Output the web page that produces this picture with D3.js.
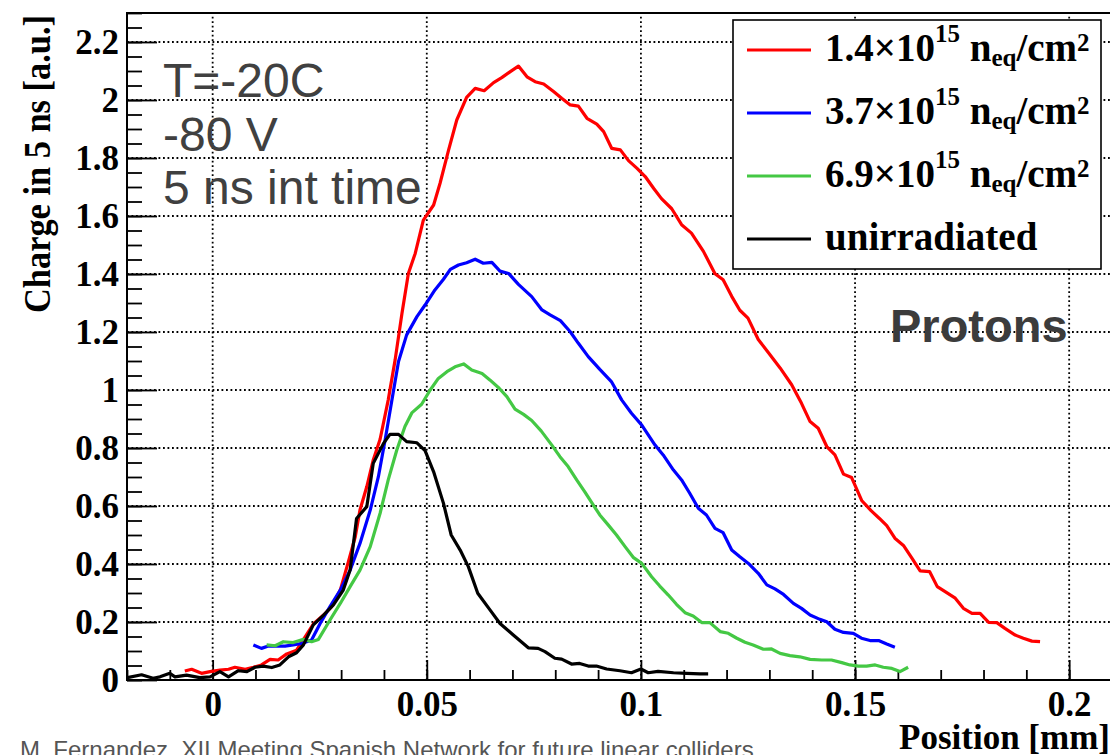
<!DOCTYPE html>
<html><head><meta charset="utf-8">
<script src="https://cdn.jsdelivr.net/npm/d3@7"></script>
<style>html,body{margin:0;padding:0;background:#fff;overflow:hidden}</style>
</head><body>
<svg id="c" width="1110" height="755"></svg>
<script>
// ---- data (position [mm], charge [a.u.]) ----
const red = [[-0.0065,0.031],[-0.0049,0.037],[-0.0026,0.023],[-0.0006,0.029],[0.0017,0.034],[0.0037,0.037],[0.0052,0.044],[0.0076,0.037],[0.0095,0.044],[0.0114,0.052],[0.0134,0.071],[0.0153,0.069],[0.0173,0.09],[0.0196,0.103],[0.0216,0.149],[0.0235,0.193],[0.0259,0.224],[0.0278,0.253],[0.0298,0.31],[0.0317,0.408],[0.0333,0.494],[0.0344,0.586],[0.036,0.667],[0.0375,0.759],[0.0391,0.83],[0.041,0.966],[0.0426,1.103],[0.0442,1.264],[0.0457,1.402],[0.0473,1.471],[0.0492,1.586],[0.0516,1.638],[0.0531,1.713],[0.0551,1.828],[0.057,1.931],[0.0593,2.009],[0.0613,2.04],[0.0634,2.032],[0.0656,2.06],[0.0675,2.077],[0.0695,2.098],[0.0714,2.117],[0.0734,2.08],[0.0753,2.063],[0.0773,2.055],[0.0796,2.029],[0.0815,2.006],[0.0835,1.983],[0.0854,1.979],[0.0874,1.937],[0.0897,1.917],[0.0913,1.891],[0.0932,1.833],[0.0952,1.828],[0.0971,1.791],[0.0991,1.764],[0.101,1.736],[0.103,1.695],[0.1048,1.66],[0.1072,1.625],[0.1095,1.57],[0.1118,1.541],[0.1146,1.478],[0.1173,1.401],[0.1192,1.38],[0.1212,1.323],[0.1231,1.275],[0.125,1.248],[0.1274,1.174],[0.1297,1.13],[0.1325,1.076],[0.1352,1.018],[0.1375,0.954],[0.1395,0.891],[0.1414,0.868],[0.1434,0.805],[0.1453,0.776],[0.1473,0.71],[0.1492,0.698],[0.1516,0.618],[0.1538,0.583],[0.1557,0.557],[0.1574,0.532],[0.1593,0.489],[0.1613,0.464],[0.1632,0.422],[0.1652,0.376],[0.1674,0.374],[0.1692,0.322],[0.1714,0.301],[0.1734,0.282],[0.1753,0.247],[0.1773,0.23],[0.1792,0.23],[0.1812,0.199],[0.1831,0.198],[0.185,0.178],[0.1874,0.155],[0.1893,0.144],[0.1913,0.134],[0.1932,0.132]];

const blue = [[0.0095,0.121],[0.0114,0.109],[0.013,0.117],[0.015,0.117],[0.0169,0.117],[0.0188,0.121],[0.0208,0.126],[0.0231,0.138],[0.0251,0.195],[0.0274,0.253],[0.0298,0.31],[0.0321,0.379],[0.0344,0.471],[0.0368,0.586],[0.0387,0.701],[0.0403,0.83],[0.0418,0.96],[0.0434,1.098],[0.0453,1.19],[0.0477,1.253],[0.0496,1.293],[0.0519,1.345],[0.0539,1.382],[0.0555,1.416],[0.0574,1.431],[0.0593,1.439],[0.0613,1.451],[0.0632,1.437],[0.0652,1.44],[0.0671,1.41],[0.0691,1.402],[0.0714,1.364],[0.0745,1.322],[0.0769,1.276],[0.0788,1.259],[0.0812,1.239],[0.0835,1.201],[0.0854,1.161],[0.0877,1.115],[0.0904,1.071],[0.0931,1.029],[0.0955,0.966],[0.0978,0.92],[0.1002,0.879],[0.1033,0.81],[0.1052,0.776],[0.1076,0.724],[0.1095,0.69],[0.1114,0.644],[0.1134,0.592],[0.1153,0.569],[0.1173,0.523],[0.1192,0.508],[0.1212,0.448],[0.1231,0.425],[0.1251,0.402],[0.1274,0.368],[0.1294,0.328],[0.1313,0.314],[0.1333,0.295],[0.1356,0.264],[0.1375,0.247],[0.1395,0.224],[0.1418,0.209],[0.1434,0.201],[0.1453,0.175],[0.1473,0.164],[0.1496,0.161],[0.1515,0.144],[0.1535,0.136],[0.1555,0.136],[0.1574,0.124],[0.1593,0.113]];

const green = [[0.0126,0.121],[0.0146,0.118],[0.0165,0.132],[0.0188,0.129],[0.0212,0.14],[0.0231,0.132],[0.0247,0.14],[0.0274,0.207],[0.0298,0.264],[0.0321,0.322],[0.0344,0.379],[0.0368,0.46],[0.0391,0.575],[0.041,0.69],[0.043,0.793],[0.0449,0.874],[0.0465,0.921],[0.0488,0.951],[0.0508,1.0],[0.0527,1.04],[0.0547,1.063],[0.0566,1.08],[0.0586,1.09],[0.0605,1.069],[0.0629,1.057],[0.0648,1.034],[0.0669,1.006],[0.0687,0.977],[0.0706,0.934],[0.0726,0.916],[0.0745,0.895],[0.0767,0.859],[0.0792,0.81],[0.0811,0.77],[0.083,0.736],[0.085,0.69],[0.0869,0.649],[0.0889,0.603],[0.0904,0.569],[0.0924,0.534],[0.0943,0.5],[0.0963,0.46],[0.0982,0.423],[0.1002,0.402],[0.1025,0.356],[0.1044,0.324],[0.1064,0.293],[0.1083,0.261],[0.1103,0.232],[0.1122,0.221],[0.1142,0.198],[0.1161,0.198],[0.1185,0.167],[0.1204,0.161],[0.1224,0.144],[0.1243,0.13],[0.1262,0.121],[0.1286,0.106],[0.1305,0.107],[0.1325,0.092],[0.1348,0.084],[0.1371,0.08],[0.1395,0.071],[0.1422,0.069],[0.1445,0.069],[0.1469,0.06],[0.1488,0.052],[0.1508,0.048],[0.1527,0.048],[0.1547,0.052],[0.1566,0.044],[0.1586,0.04],[0.1605,0.029],[0.1624,0.044]];

const black = [[-0.0199,0.008],[-0.0166,0.018],[-0.0139,0.006],[-0.0123,0.011],[-0.01,0.023],[-0.0088,0.011],[-0.0061,0.017],[-0.003,0.008],[-0.0006,0.011],[0.0017,0.029],[0.0037,0.011],[0.006,0.032],[0.008,0.029],[0.0099,0.044],[0.0118,0.048],[0.0138,0.043],[0.0157,0.052],[0.0177,0.08],[0.0196,0.094],[0.0212,0.121],[0.0235,0.19],[0.0259,0.224],[0.0282,0.259],[0.0305,0.31],[0.0321,0.379],[0.0336,0.557],[0.036,0.598],[0.0375,0.747],[0.0399,0.816],[0.0414,0.847],[0.0434,0.847],[0.0453,0.822],[0.0477,0.818],[0.0496,0.791],[0.0516,0.718],[0.0539,0.609],[0.0557,0.5],[0.0578,0.448],[0.0597,0.391],[0.0619,0.299],[0.0648,0.241],[0.0671,0.195],[0.0702,0.155],[0.0737,0.111],[0.076,0.109],[0.0776,0.098],[0.0799,0.075],[0.0815,0.072],[0.0838,0.055],[0.0857,0.057],[0.0877,0.048],[0.0896,0.048],[0.092,0.038],[0.0951,0.032],[0.0978,0.025],[0.1,0.038],[0.1017,0.025],[0.104,0.03],[0.1076,0.025],[0.1107,0.023],[0.1138,0.021],[0.1157,0.021]];

const seriesNames = ["1.4", "3.7", "6.9", "unirradiated"];
const xTicks = [0, 0.05, 0.1, 0.15, 0.2];
const xTickLabels = ["0", "0.05", "0.1", "0.15", "0.2"];
const yTicks = [0, 0.2, 0.4, 0.6, 0.8, 1, 1.2, 1.4, 1.6, 1.8, 2, 2.2];
const yTickLabels = ["0", "0.2", "0.4", "0.6", "0.8", "1", "1.2", "1.4", "1.6", "1.8", "2", "2.2"];
const infoLines = ["T=-20C", "-80 V", "5 ns int time"];

// ---- layout ----
const svg = d3.select("#c");
const L = 127, R = 1112, T = 13, B = 680;
const x = d3.scaleLinear().domain([-0.02, 0.21]).range([L, R]);
const y = d3.scaleLinear().domain([0, 2.3]).range([B, T]);
const serif = "'Liberation Serif','Times New Roman',serif";
const sans = "'Liberation Sans',Arial,sans-serif";

svg.append("rect").attr("width", 1110).attr("height", 755).attr("fill", "#fff");

// grid
const grid = svg.append("g").attr("stroke", "#000").attr("stroke-width", 1.8).attr("stroke-dasharray", "1.8 2.7");
grid.selectAll(".gx").data(xTicks).join("line")
  .attr("x1", d => x(d)).attr("x2", d => x(d)).attr("y1", B).attr("y2", T);
grid.selectAll(".gy").data(yTicks.filter(d => d > 0)).join("line")
  .attr("y1", d => y(d)).attr("y2", d => y(d)).attr("x1", L).attr("x2", R);

// minor ticks
const minorY = d3.range(0, 2.31, 0.05);
const minorX = d3.range(-0.02, 0.2101, 0.01);
svg.append("g").attr("transform", `translate(${L},0)`)
  .call(d3.axisLeft(y).tickValues(minorY).tickSize(-15).tickFormat(""))
  .call(g => g.select(".domain").remove())
  .selectAll("line").attr("stroke-width", 1.8);
svg.append("g").attr("transform", `translate(0,${B})`)
  .call(d3.axisBottom(x).tickValues(minorX).tickSize(-10).tickFormat(""))
  .call(g => g.select(".domain").remove())
  .selectAll("line").attr("stroke-width", 1.8);

// major axes
const ya = svg.append("g").attr("transform", `translate(${L},0)`)
  .call(d3.axisLeft(y).tickValues(yTicks).tickSize(-30).tickPadding(8).tickFormat((d, i) => yTickLabels[i]));
ya.select(".domain").remove();
ya.selectAll("line").attr("stroke-width", 1.8);
ya.selectAll("text").attr("font-family", serif).attr("font-weight", "bold").attr("font-size", 35)
  .attr("fill", "#000").attr("dy", "0.34em");

const xa = svg.append("g").attr("transform", `translate(0,${B})`)
  .call(d3.axisBottom(x).tickValues(xTicks).tickSize(-20).tickFormat((d, i) => xTickLabels[i]));
xa.select(".domain").remove();
xa.selectAll("line").attr("stroke-width", 1.8);
xa.selectAll("text").attr("font-family", serif).attr("font-weight", "bold").attr("font-size", 35)
  .attr("fill", "#000").attr("y", 36).attr("dy", 0);

// frame
svg.append("rect").attr("x", L).attr("y", T).attr("width", R - L).attr("height", B - T)
  .attr("fill", "none").attr("stroke", "#000").attr("stroke-width", 2);

// curves
const line = d3.line().x(d => x(d[0])).y(d => y(d[1]));
const series = [
  {data: red, color: "#ff0000"},
  {data: blue, color: "#0000ff"},
  {data: green, color: "#44c844"},
  {data: black, color: "#000000"}
];
svg.append("g").selectAll("path").data(series).join("path")
  .attr("d", d => line(d.data)).attr("fill", "none").attr("stroke", d => d.color)
  .attr("stroke-width", 3.2).attr("stroke-linejoin", "round");

// info text
svg.append("g").selectAll("text").data(infoLines).join("text")
  .attr("x", 163).attr("y", (d, i) => 97 + i * 53.5)
  .attr("font-family", sans).attr("font-size", 48).attr("fill", "#404040").text(d => d);

svg.append("text").attr("x", 890).attr("y", 342).attr("font-family", sans).attr("font-weight", "bold")
  .attr("font-size", 47).attr("fill", "#3c3c3c").text("Protons");

// legend
const lg = svg.append("g");
lg.append("rect").attr("x", 733).attr("y", 20).attr("width", 368).attr("height", 249)
  .attr("fill", "#fff").attr("stroke", "#000").attr("stroke-width", 1.6);
series.forEach((s, i) => {
  const by = 61 + i * 63;
  lg.append("line").attr("x1", 747).attr("x2", 811).attr("y1", by - 11).attr("y2", by - 11)
    .attr("stroke", s.color).attr("stroke-width", 3);
  const t = lg.append("text").attr("x", 825).attr("y", by).attr("font-family", serif)
    .attr("font-weight", "bold").attr("font-size", 39).attr("fill", "#000");
  if (i < 3) {
    t.append("tspan").text(seriesNames[i] + "\u00d710");
    t.append("tspan").attr("dy", -19).attr("font-size", 25).text("15");
    t.append("tspan").attr("dy", 19).text(" n");
    t.append("tspan").attr("dy", 5).attr("font-size", 25).text("eq");
    t.append("tspan").attr("dy", -5).text("/cm");
    t.append("tspan").attr("dy", -10).attr("font-size", 25).text("2");
  } else {
    t.text(seriesNames[i]);
  }
});

// axis titles
svg.append("text").attr("transform", "translate(50,15) rotate(-90)").attr("text-anchor", "end")
  .attr("font-family", serif).attr("font-weight", "bold").attr("font-size", 37)
  .attr("textLength", 298).attr("lengthAdjust", "spacingAndGlyphs")
  .text("Charge in 5 ns [a.u.]");
svg.append("text").attr("x", 1110).attr("y", 749).attr("text-anchor", "end")
  .attr("font-family", serif).attr("font-weight", "bold").attr("font-size", 35)
  .text("Position [mm]");

// footer
svg.append("text").attr("x", 20).attr("y", 758).attr("font-family", sans).attr("font-size", 24)
  .attr("fill", "#555").text("M. Fernandez, XII Meeting Spanish Network for future linear colliders");
</script>
</body></html>
